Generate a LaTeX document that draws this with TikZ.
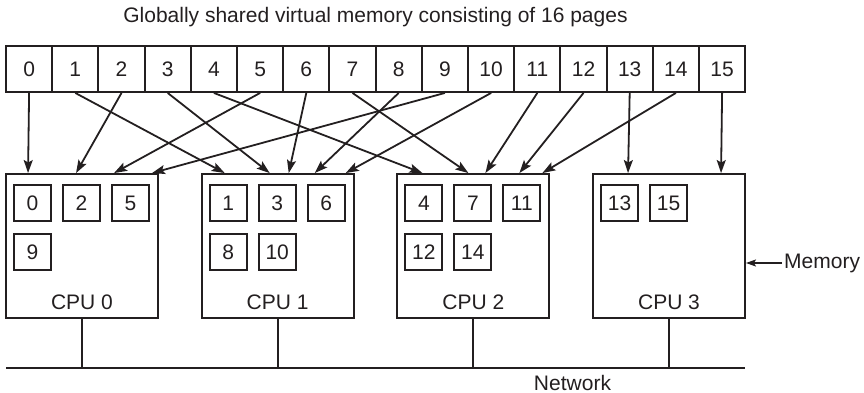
\documentclass[tikz,border=0pt]{standalone}
\usepackage{fontspec}
\setmainfont{Liberation Sans}
\usepackage{xcolor}
\usepackage{tikz}
\usetikzlibrary{arrows.meta,positioning,calc}

\definecolor{ink}{RGB}{35,31,32}

\begin{document}
\begin{tikzpicture}[
    x=1pt, y=-1pt,
    every node/.style={font=\fontsize{21}{25}\selectfont, text=ink},
    cell/.style={rectangle, draw=ink, line width=1.9pt, minimum width=46.2pt, minimum height=46pt, inner sep=0pt},
    cpubox/.style={rectangle, draw=ink, line width=1.9pt, minimum width=152pt, minimum height=144pt, inner sep=0pt},
    pagebox/.style={rectangle, draw=ink, line width=1.9pt, minimum width=37pt, minimum height=36pt, inner sep=0pt},
    arr/.style={-{Stealth[length=13pt, width=9pt, inset=2.5pt]}, line width=1.8pt, draw=ink},
    wire/.style={line width=1.9pt, draw=ink}
]
    \useasboundingbox (0,0) rectangle (864,393);

    % shared virtual memory
    \node [anchor=base] (title) at (375.5,23) {Globally shared virtual memory consisting of 16 pages};
    \foreach \i in {0,...,15}
        \node [cell] (p\i) at ({29.1+46.2*\i},69) {\i};

    % processors
    \foreach \c in {0,...,3} {
        \node [cpubox] (cpu\c) at ({82+195.67*\c},246) {};
        \node [anchor=base] (cpulab\c) at ($(cpu\c.south)+(0,-9)$) {CPU \c};
    }

    % pages held by each processor
    \foreach \pg/\c/\col/\row in {0/0/0/0, 2/0/1/0, 5/0/2/0, 9/0/0/1,
                                  1/1/0/0, 3/1/1/0, 6/1/2/0, 8/1/0/1, 10/1/1/1,
                                  4/2/0/0, 7/2/1/0, 11/2/2/0, 12/2/0/1, 14/2/1/1,
                                  13/3/0/0, 15/3/1/0}
        \node [pagebox] (m\pg) at ($(cpu\c.north west)+({27.5+49*\col},{30+49*\row})$) {\pg};

    % mapping arrows
    \foreach \pg/\c/\dx in {0/0/23, 2/0/71, 5/0/109, 9/0/147,
                            1/1/24, 3/1/69, 6/1/88, 8/1/114, 10/1/145,
                            4/2/26, 7/2/72, 11/2/89, 12/2/123, 14/2/146,
                            13/3/36, 15/3/129}
        \draw [arr] (p\pg.south) -- ($(cpu\c.north west)+(\dx,0)$);

    % memory label
    \node [anchor=west, inner sep=2pt] (mem) at (782,263) {Memory};
    \draw [-{Stealth[length=10pt, width=7pt, inset=2pt]}, line width=1.6pt, draw=ink] (mem.west) -- (mem.west -| cpu3.east);

    % network
    \coordinate (netL) at (6,368);
    \coordinate (netR) at (745,368);
    \draw [wire] (netL) -- (netR);
    \foreach \c in {0,...,3}
        \draw [wire] (cpu\c.south) -- (cpu\c.south |- netL);
    \node [anchor=base] (net) at (572.5,390) {Network};
\end{tikzpicture}
\end{document}
